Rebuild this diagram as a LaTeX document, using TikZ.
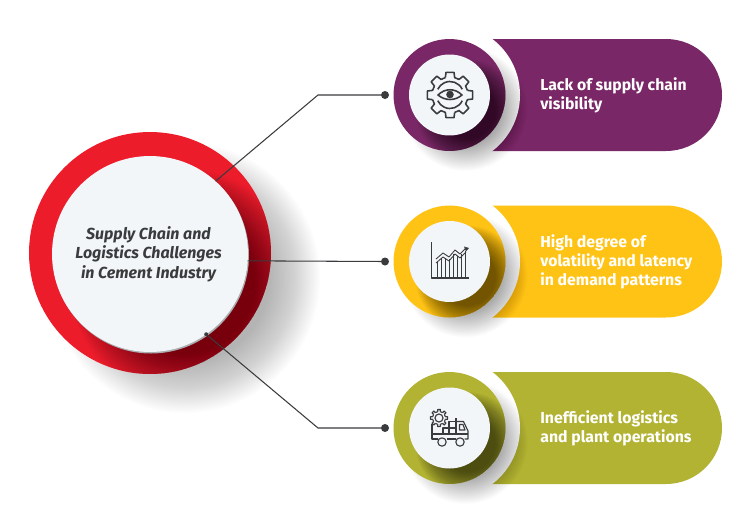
\documentclass[tikz,border=0pt]{standalone}
\usepackage{fontspec}
\setmainfont{Fira Sans}
\usetikzlibrary{calc}
\definecolor{plum}{HTML}{7A2767}
\definecolor{amber}{HTML}{FFC315}
\definecolor{olive}{HTML}{B2B332}
\definecolor{ringred}{HTML}{ED1C2B}
\definecolor{facegrey}{HTML}{F3F6F8}
\definecolor{inkgrey}{HTML}{3A3B3D}
\tikzset{
  hubdisc/.style={circle,inner sep=0pt,outer sep=0pt,fill=ringred,minimum size=4.84cm},
  hubface/.style={circle,inner sep=0pt,outer sep=0pt,fill=facegrey,minimum size=3.92cm},
  rowdisc/.style={circle,inner sep=0pt,outer sep=0pt,minimum size=2.24cm},
  rowface/.style={circle,inner sep=0pt,outer sep=0pt,fill=facegrey,minimum size=1.62cm},
  linkdot/.style={circle,inner sep=0pt,outer sep=0pt,fill=inkgrey,minimum size=0.16cm},
  rowtext/.style={anchor=west,inner sep=0pt,align=left,text=white,font=\bfseries\fontsize{9}{10.9}\selectfont},
  hubtext/.style={align=center,text=inkgrey,font=\bfseries\itshape\fontsize{9.1}{11}\selectfont},
  link/.style={draw=inkgrey,line width=0.6pt},
  iconline/.style={draw=inkgrey,line width=0.65pt,line join=round}
}
% blurred disc as a shadow: x, y, inner radius, outer radius, opacity
\newcommand{\softshadow}[5]{
  \foreach \s in {0,...,29}{
    \pgfmathsetmacro{\t}{\s/29}
    \fill[black,opacity=#5] (#1,#2) circle ({#3+\t*(#4-#3)});
  }
}
\begin{document}
\begin{tikzpicture}[x=0.02cm,y=-0.02cm]
  \useasboundingbox (0,0) rectangle (750,518);
  % rows
  \foreach \n/\cy/\col in {1/95/plum,2/261.5/amber,3/428/olive}{
    \fill[\col] (449.5,\cy-56) -- (666,\cy-56) arc (-90:90:56) -- (449.5,\cy+56) -- cycle;
    \fill[white] (449.5,\cy) circle (70.5);
    \begin{scope}
      \clip (380,\cy-56) rectangle (560,\cy+85);
      \softshadow{465.5}{\cy+14}{35}{62}{0.012}
    \end{scope}
    \node[rowdisc,fill=\col] (disc\n) at (449.5,\cy) {};
    \begin{scope}
      \clip (449.5,\cy) circle (56);
      \softshadow{467.5}{\cy+16}{28}{52}{0.022}
    \end{scope}
    \node[rowface] (face\n) at (449.5,\cy) {};
    \node[linkdot] (dot\n) at (385,\cy) {};
  }
  % hub
  \softshadow{185}{278}{85}{135}{0.012}
  \node[hubdisc] (hub) at (150,253) {};
  \begin{scope}
    \clip (150,253) circle (121);
    \softshadow{185}{284}{70}{115}{0.018}
    \fill[black!30!facegrey] (151,255.5) circle (98);
  \end{scope}
  \node[hubface] (core) at (150,254) {};
  \node[hubtext] (title) at (148.5,254) {Supply Chain and\\Logistics Challenges\\in Cement Industry};
  % labels
  \node[rowtext] (label1) at (540,95) {Lack of supply chain\\visibility};
  \node[rowtext] (label2) at (540,261.5) {High degree of\\volatility and latency\\in demand patterns};
  \node[rowtext] (label3) at (540,428) {Inefficient logistics\\and plant operations};
  % links
  \coordinate (bend1) at (318,95);
  \coordinate (bend3) at (318,428);
  \draw[link] (core.48) -- (bend1) -- (dot1);
  \draw[link] (core.-4.4) -- (dot2);
  \draw[link] (core.-55) -- (bend3) -- (dot3);
  \fill[inkgrey] (core.-55) circle (2);
  % eye gear
  \begin{scope}[shift={(450,95)}]
    \foreach \a in {0,45,...,315}{
      \draw[iconline,line width=0.9pt] (\a-15:18) -- (\a-10:23) -- (\a+10:23) -- (\a+15:18) -- (\a+30:18);
    }
    \draw[iconline,line width=0.9pt] (25:13.5) arc (25:155:13.5);
    \draw[iconline,line width=0.9pt] (-25:13.5) arc (-25:-155:13.5);
    \draw[iconline,line width=0.9pt] (-12,0) .. controls (-5,-7) and (5,-7) .. (12,0) .. controls (5,6) and (-5,6) .. (-12,0) -- cycle;
    \fill[inkgrey] (0,-0.5) circle (3.8);
  \end{scope}
  % chart
  \foreach \bx/\by in {437.5/262,441.5/258,445.5/258,449.5/259,453.5/254,457.5/256,461.5/254,465.5/251}{
    \draw[draw=inkgrey,line width=0.9pt] (\bx,277) -- (\bx,\by);
  }
  \draw[iconline,line width=0.5pt] (436,259) -- (443,253) -- (449,257) -- (455,250) -- (460,254) -- (466,248);
  \draw[iconline,line width=0.5pt] (436,263) -- (443,257) -- (449,261) -- (455,254) -- (460,258) -- (466,252);
  \fill[inkgrey] (469,248) -- (464,246.5) -- (466,251.5) -- cycle;
  \draw[iconline,line width=0.9pt] (431.5,242) -- (431.5,278) -- (469,278);
  % truck
  \begin{scope}
    \draw[iconline] (432,424) -- (432,439) -- (437.5,439);
    \draw[iconline] (432,434) -- (468,434);
    \draw[iconline] (446.5,439) -- (455.5,439);
    \draw[iconline] (464.5,439) -- (468,439) -- (468,431) -- (463.5,421.5) -- (456,421.5);
    \draw[iconline] (456,418) -- (456,434);
    \draw[iconline] (459.5,424.5) -- (463,424.5) -- (465,430) -- (459.5,430) -- cycle;
    \draw[iconline] (442,442) circle (4.2);
    \draw[iconline] (460,442) circle (4.2);
    \draw[iconline] (443,428) rectangle (449,434);
    \draw[iconline] (449,428) rectangle (455.5,434);
    \draw[iconline] (449,421.5) rectangle (455.5,428);
    \draw[iconline] (439,418) circle (4);
    \foreach \a in {0,45,...,315}{
      \draw[iconline] (439,418) ++(\a-11:6.5) -- ++(\a:2.2) -- ++(\a+90:2.5) -- ($(439,418)+(\a+11:6.5)$);
      \draw[iconline] (439,418) ++(\a+11:6.5) arc (\a+11:\a+34:6.5);
    }
  \end{scope}
\end{tikzpicture}
\end{document}
